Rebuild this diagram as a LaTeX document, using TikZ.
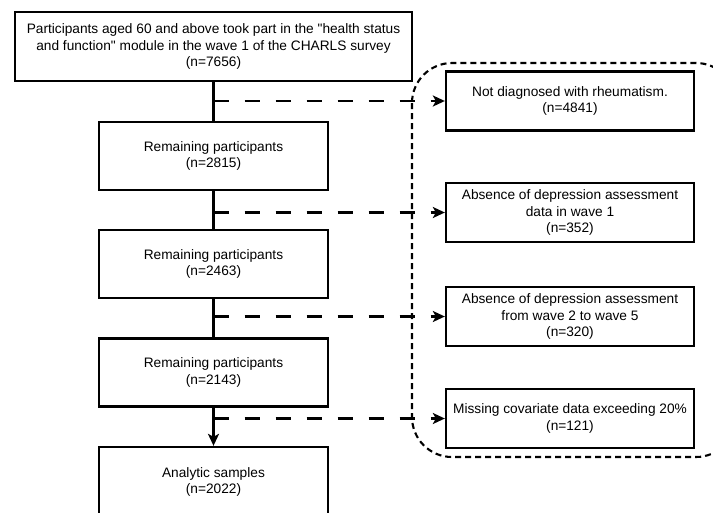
\documentclass[tikz,border=0pt]{standalone}
\usepackage{fontspec}
\setmainfont{Liberation Sans}[Ligatures=TeXOff]
\usetikzlibrary{arrows.meta}

\tikzset{
  stagebox/.style={draw, line width=2.3pt, minimum width=229pt, minimum height=68pt, align=center, inner sep=2pt},
  exbox/.style={draw, line width=2.3pt, minimum width=248pt, minimum height=59pt, align=center, inner sep=2pt},
  flowline/.style={line width=2.2pt},
  tipline/.style={line width=2.2pt, -{Stealth[length=12pt,width=11pt,inset=3pt]}},
  exline/.style={tipline, dash pattern=on 15pt off 16pt},
  groupline/.style={line width=2.1pt, dash pattern=on 6pt off 4pt, rounded corners=40pt}
}

\begin{document}
\begin{tikzpicture}[x=1pt,y=-1pt,font=\fontsize{13.7}{16.5}\selectfont]
\useasboundingbox (0,0) rectangle (713,512);
\clip (0,0) rectangle (713,512);

% excluded group
\draw[groupline] (412,63) rectangle (736,457);

% main flow
\node[stagebox, minimum width=397pt, minimum height=69pt] (top) at (213.5,46.5)
  {Participants aged 60 and above took part in the "health status\\
   and function" module in the wave 1 of the CHARLS survey\\(n=7656)};
\node[stagebox] (rem1) at (213.5,156) {Remaining participants\\(n=2815)};
\node[stagebox] (rem2) at (213.5,264) {Remaining participants\\(n=2463)};
\node[stagebox] (rem3) at (213.5,372.5) {Remaining participants\\(n=2143)};
\node[stagebox, minimum height=70pt] (final) at (213.5,482) {Analytic samples\\(n=2022)};

% exclusions
\node[exbox] (ex1) at (570,101) {Not diagnosed with rheumatism.\\(n=4841)};
\node[exbox] (ex2) at (570,212.5) {Absence of depression assessment\\data in wave 1\\(n=352)};
\node[exbox] (ex3) at (570,316.5) {Absence of depression assessment\\from wave 2 to wave 5\\(n=320)};
\node[exbox] (ex4) at (570,418.5) {Missing covariate data exceeding 20\%\\(n=121)};

\draw[flowline] (top) -- (rem1);
\draw[flowline] (rem1) -- (rem2);
\draw[flowline] (rem2) -- (rem3);
\draw[tipline] (rem3) -- (final);

\draw[exline] (top.south |- ex1.west) -- (ex1.west);
\draw[exline] (top.south |- ex2.west) -- (ex2.west);
\draw[exline] (top.south |- ex3.west) -- (ex3.west);
\draw[exline] (top.south |- ex4.west) -- (ex4.west);
\end{tikzpicture}
\end{document}
